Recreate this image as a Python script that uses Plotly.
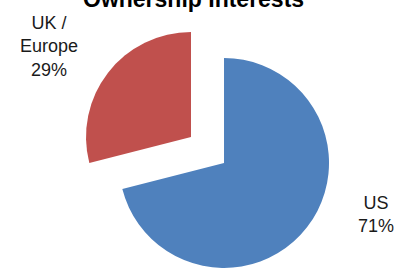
import plotly.graph_objects as go

categories = ["US", "UK / Europe"]
shares = [71, 29]
colors = ["#4F81BD", "#C0504D"]
title_text = "Ownership Interests"

TRANSPARENT = "rgba(0,0,0,0)"

fig = go.Figure()

# Main (blue) slice drawn in its own domain, other slice transparent
fig.add_trace(go.Pie(
    labels=categories, values=shares, sort=False, direction="clockwise", rotation=0,
    marker=dict(colors=[colors[0], TRANSPARENT], line=dict(width=0)),
    textinfo="none", hoverinfo="label+percent", showlegend=False,
    domain=dict(x=[0.2946, 0.8144], y=[0.0074, 0.7852]),
))
# Exploded (red) slice drawn in a shifted domain
fig.add_trace(go.Pie(
    labels=categories, values=shares, sort=False, direction="clockwise", rotation=0,
    marker=dict(colors=[TRANSPARENT, colors[1]], line=dict(width=0)),
    textinfo="none", hoverinfo="label+percent", showlegend=False,
    domain=dict(x=[0.2129, 0.7327], y=[0.1037, 0.8815]),
))

total = sum(shares)
label_pos = [(376 / 404, 1 - 214 / 270), (49 / 404, 1 - 47 / 270)]
for cat, val, (lx, ly) in zip(categories, shares, label_pos):
    txt = cat.replace(" / ", " /<br>") + "<br>" + f"{round(100 * val / total)}%"
    fig.add_annotation(
        x=lx, y=ly, xref="paper", yref="paper", text=txt, showarrow=False,
        xanchor="center", yanchor="middle",
        font=dict(family="Liberation Sans, Arial, sans-serif", size=18, color="#1a1a1a"),
    )

# Title (partly clipped at the top edge, as in the reference)
fig.add_annotation(
    x=193 / 404, y=1, xref="paper", yref="paper", text=f"<b>{title_text}</b>",
    showarrow=False, xanchor="center", yanchor="middle", yshift=1,
    font=dict(family="Liberation Sans, Arial, sans-serif", size=23, color="#000000"),
)

fig.update_layout(
    width=404, height=270,
    margin=dict(l=0, r=0, t=0, b=0),
    paper_bgcolor="white", plot_bgcolor="white",
)

fig.write_html(
    "out.html",
    config={"displayModeBar": False},
    post_script="document.body.style.margin='0';",
)
